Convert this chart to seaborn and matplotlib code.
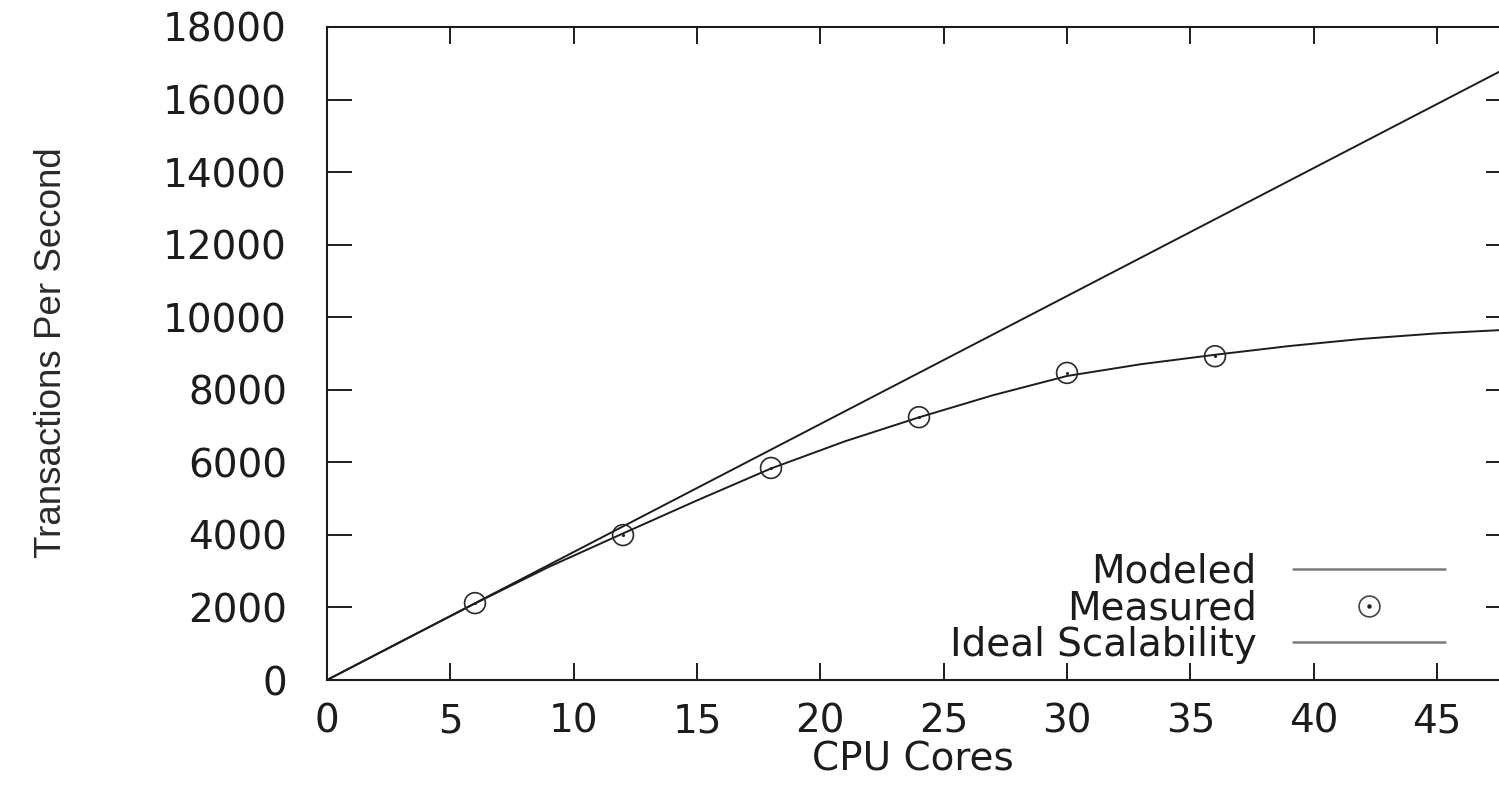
import matplotlib
matplotlib.use("Agg")
import matplotlib.pyplot as plt
import seaborn as sns
from matplotlib import font_manager
from matplotlib.lines import Line2D

# ---- data ----
MEASURED_CORES = [6, 12, 18, 24, 30, 36]
MEASURED_TPS = [2120, 3995, 5845, 7245, 8465, 8925]

MODELED_CORES = [0, 3, 6, 9, 12, 15, 18, 21, 24, 27, 30, 33, 36, 39, 42, 45, 48]
MODELED_TPS = [0, 1058, 2110, 3120, 4040, 4950, 5830, 6580, 7240, 7850, 8380,
               8705, 8965, 9205, 9405, 9555, 9660]

IDEAL_CORES = [0, 48]
IDEAL_TPS = [0, 16934]

X_TICKS = [0, 5, 10, 15, 20, 25, 30, 35, 40, 45]
Y_TICKS = [0, 2000, 4000, 6000, 8000, 10000, 12000, 14000, 16000, 18000]

LEGEND_LABELS = ["Modeled", "Measured", "Ideal Scalability"]
X_LABEL = "CPU Cores"
Y_LABEL = "Transactions Per Second"

sns.set_style("white")
plt.rcParams["font.family"] = ["DejaVu Sans"]


def has_font(name):
    try:
        font_manager.findfont(font_manager.FontProperties(family=name),
                              fallback_to_default=False)
        return True
    except Exception:
        return False


if has_font("Liberation Sans Narrow"):
    ylab_family, ylab_size = "Liberation Sans Narrow", 32
else:
    ylab_family, ylab_size = "Liberation Sans", 26.5

INK = "#1c1c1c"

fig = plt.figure(figsize=(14.99, 7.93), dpi=100)
ax = fig.add_axes([327 / 1499, 1 - 680 / 793, (1511 - 327) / 1499, (680 - 27) / 793])

sns.lineplot(x=IDEAL_CORES, y=IDEAL_TPS, ax=ax, color=INK, lw=1.4)
sns.lineplot(x=MODELED_CORES, y=MODELED_TPS, ax=ax, color=INK, lw=1.4)
sns.scatterplot(x=MEASURED_CORES, y=MEASURED_TPS, ax=ax, marker="o", s=225,
                facecolor="none", edgecolor="#2a2a2a", linewidth=1.2, zorder=3)
sns.scatterplot(x=MEASURED_CORES, y=MEASURED_TPS, ax=ax, marker="o", s=5,
                color="#222222", linewidth=0, zorder=4)

ax.set_xlim(0, 48)
ax.set_ylim(0, 18000)
ax.set_xticks(X_TICKS)
ax.set_yticks(Y_TICKS)
ax.tick_params(axis="both", direction="in", top=True, right=True, bottom=True,
               left=True, width=1.4, color=INK, labelsize=28, labelcolor=INK)
ax.tick_params(axis="x", length=12.2, pad=16)
ax.tick_params(axis="y", length=18, pad=28.8)
for sp in ax.spines.values():
    sp.set_linewidth(1.5)
    sp.set_color(INK)
    sp.set_visible(True)

ax.set_xlabel(X_LABEL, fontsize=28, color=INK)
ax.xaxis.set_label_coords(0.495, -0.093)
ax.set_ylabel(Y_LABEL, fontsize=ylab_size, family=ylab_family, color="#2a2a2a")
ax.yaxis.set_label_coords(-0.218, 0.502)

h_model = Line2D([], [], color="#7a7a7a", lw=1.8)
h_circle = Line2D([], [], ls="none", marker="o", markersize=15, markerfacecolor="none",
                  markeredgecolor="#444444", markeredgewidth=1.2)
h_dot = Line2D([], [], ls="none", marker="o", markersize=2.2, color="#222222")
h_ideal = Line2D([], [], color="#7a7a7a", lw=1.8)
ax.legend([h_model, (h_circle, h_dot), h_ideal], LEGEND_LABELS,
          loc="lower right", bbox_to_anchor=(0.944, 0.0245), frameon=False,
          markerfirst=False, fontsize=28, labelspacing=-0.03, handlelength=3.9,
          handletextpad=0.93, borderpad=0, borderaxespad=0, labelcolor=INK)

fig.savefig("out.png", dpi=100)
